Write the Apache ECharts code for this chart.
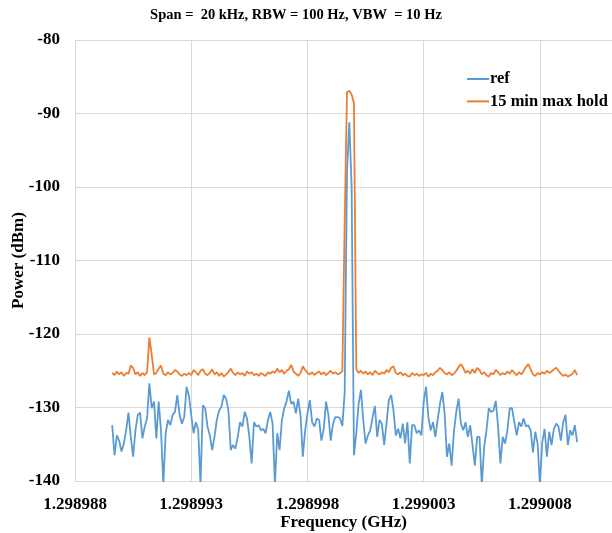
<!DOCTYPE html>
<html>
<head>
<meta charset="utf-8">
<script src="https://cdn.jsdelivr.net/npm/echarts@6/dist/echarts.min.js"></script>
<style>
html,body{margin:0;padding:0;background:#fff;}
#chart{width:612px;height:533px;}
</style>
</head>
<body>
<div id="chart"></div>
<script>
// Sweep grid (GHz): 201 points over the 20 kHz span
var sweepStart = 1.2989896;
var sweepStep = 0.0000001;

var xTickLabels = ['1.298988', '1.298993', '1.298998', '1.299003', '1.299008'];
var yTickLabels = ['-140', '-130', '-120', '-110', '-100', '-90', '-80'];

// Trace "ref" (dBm)
var refPower = [
  -132.4, -136.5, -133.8, -134.5, -136.0, -134.9, -133.1, -130.7, -134.0, -136.7,
  -133.1, -131.0, -130.7, -134.2, -132.6, -131.5, -126.7, -130.1, -129.2, -134.2,
  -129.2, -133.1, -140.5, -133.5, -131.7, -132.4, -131.0, -130.6, -128.3, -131.0,
  -132.2, -131.3, -127.2, -128.4, -131.0, -133.5, -132.0, -133.0, -140.5, -129.7,
  -130.1, -132.6, -133.8, -135.8, -134.0, -131.7, -130.4, -129.9, -128.3, -128.8,
  -130.4, -135.8, -135.1, -135.6, -134.0, -132.0, -132.6, -130.6, -131.5, -134.0,
  -137.6, -132.0, -132.6, -132.4, -133.1, -132.9, -133.5, -131.7, -130.6, -132.2,
  -140.5, -133.5, -135.8, -131.7, -130.1, -129.2, -127.7, -129.5, -129.2, -130.8,
  -128.8, -131.0, -136.7, -133.1, -130.8, -129.0, -132.0, -132.6, -131.5, -131.7,
  -134.5, -132.9, -129.2, -131.0, -134.5, -132.2, -131.3, -131.3, -131.5, -132.5,
  -128.0, -98.0, -91.2, -100.0, -136.5, -133.5, -129.5, -127.6, -131.7, -134.9,
  -133.8, -133.1, -131.4, -129.8, -134.0, -131.7, -132.2, -135.1, -132.2, -129.0,
  -128.3, -130.4, -133.8, -132.9, -134.2, -132.2, -134.9, -132.0, -137.6, -132.4,
  -132.4, -133.5, -133.1, -133.8, -129.2, -127.2, -131.3, -133.1, -132.0, -134.0,
  -131.7, -129.5, -127.9, -130.8, -136.7, -134.9, -137.9, -133.3, -130.6, -128.8,
  -132.2, -133.1, -132.0, -134.0, -132.4, -135.1, -137.9, -134.0, -134.0, -140.5,
  -135.4, -133.1, -130.1, -130.6, -130.4, -129.1, -132.6, -137.6, -134.0, -134.9,
  -133.1, -130.1, -130.1, -132.0, -133.8, -132.0, -132.6, -131.5, -132.6, -132.4,
  -133.1, -136.1, -133.3, -134.9, -140.5, -134.7, -132.9, -136.7, -133.3, -135.1,
  -132.9, -132.2, -132.6, -134.5, -132.0, -131.0, -135.1, -133.1, -133.8, -132.4,
  -134.7
];

// Trace "15 min max hold" (dBm)
var maxHoldPower = [
  -125.3, -125.6, -125.1, -125.5, -125.2, -125.7, -125.3, -125.4, -124.3, -124.6,
  -125.5, -125.2, -125.7, -125.3, -125.6, -125.2, -120.5, -122.8, -125.5, -125.3,
  -124.7, -124.3, -125.4, -125.6, -125.2, -125.5, -125.3, -124.9, -125.1, -125.5,
  -125.7, -125.4, -125.6, -125.3, -125.6, -124.9, -125.2, -125.6, -125.0, -124.8,
  -125.4, -125.6, -125.3, -124.8, -125.5, -125.2, -125.7, -125.3, -125.8, -125.5,
  -125.2, -124.7, -125.3, -125.6, -125.2, -125.5, -125.3, -125.7, -125.1, -125.4,
  -125.2, -125.6, -125.4, -125.7, -125.3, -125.5, -125.7, -125.2, -125.4, -125.1,
  -125.3, -124.7, -125.2, -124.9, -125.4, -125.0, -124.8, -124.2, -125.1, -125.4,
  -125.7, -125.3, -124.4, -124.9, -125.3, -125.5, -125.2, -125.6, -125.3, -125.1,
  -125.5, -125.2, -125.6, -125.3, -125.0, -125.4, -125.2, -125.5, -125.3, -125.1,
  -105.0, -87.1, -86.9, -87.4, -88.6, -124.8, -125.3, -125.0, -125.4, -125.1,
  -125.5, -125.2, -125.6, -125.0, -125.3, -125.5, -125.2, -125.4, -124.9, -125.2,
  -124.6, -124.4, -125.3, -125.5, -125.2, -125.6, -125.4, -125.7, -125.8, -125.3,
  -125.6, -125.4, -125.7, -125.5, -125.6, -125.3, -125.8, -125.4, -125.6, -125.2,
  -125.0, -124.6, -124.9, -125.3, -125.5, -125.2, -125.6, -125.4, -125.0, -124.5,
  -124.1, -124.6, -125.3, -125.0, -125.4, -124.8, -125.3, -124.6, -124.9, -125.5,
  -125.2, -125.6, -125.8, -125.3, -125.5, -124.9, -125.2, -125.6, -125.3, -125.5,
  -125.1, -125.4, -124.9, -125.3, -125.6, -125.2, -125.5, -125.0, -124.5, -124.1,
  -124.8, -125.5, -125.7, -125.3, -125.5, -125.2, -125.4, -125.0, -125.3, -125.1,
  -124.8, -124.6, -125.0, -125.4, -125.7, -125.5, -125.8, -125.6, -125.4, -124.9,
  -125.6
];

var seriesNames = ['ref', '15 min max hold'];

function pairs(values) {
  var out = [];
  for (var i = 0; i < values.length; i++) {
    out.push([sweepStart + i * sweepStep, values[i]]);
  }
  return out;
}

var FONT = '"Liberation Serif", "Times New Roman", serif';
var GRID = '#d9d9d9';

var chart = echarts.init(document.getElementById('chart'), null, {renderer: 'canvas'});
chart.setOption({
  animation: false,
  backgroundColor: '#ffffff',
  title: {
    text: 'Span =  20 kHz, RBW = 100 Hz, VBW  = 10 Hz',
    left: 296,
    textAlign: 'center',
    top: 8,
    padding: 0,
    textStyle: {fontFamily: FONT, fontWeight: 'bold', fontSize: 14.5, color: '#000'}
  },
  legend: {
    orient: 'vertical',
    left: 467,
    top: 70,
    icon: 'rect',
    itemWidth: 22,
    itemHeight: 2,
    itemGap: 4.4,
    padding: 0,
    data: seriesNames,
    textStyle: {fontFamily: FONT, fontWeight: 'bold', fontSize: 16.5, color: '#000',
                lineHeight: 18, padding: [0, 0, 0, -4]}
  },
  grid: {left: 75, right: 0, top: 40, bottom: 52, containLabel: false, outerBoundsMode: 'none'},
  xAxis: {
    type: 'value',
    min: 1.298988,
    max: 1.2990111,
    interval: 0.000005,
    name: 'Frequency (GHz)',
    nameLocation: 'middle',
    nameGap: 33,
    nameMoveOverlap: false,
    nameTextStyle: {fontFamily: FONT, fontWeight: 'bold', fontSize: 17, color: '#000'},
    axisLine: {show: false},
    axisTick: {show: false},
    splitLine: {show: true, lineStyle: {color: GRID, width: 1}},
    axisLabel: {
      showMaxLabel: false,
      margin: 15,
      fontFamily: FONT, fontWeight: 'bold', fontSize: 17, color: '#000',
      formatter: function (v) {
        var s = v.toFixed(6);
        return xTickLabels.indexOf(s) >= 0 ? s : '';
      }
    }
  },
  yAxis: {
    type: 'value',
    min: -140,
    max: -80,
    interval: 10,
    name: 'Power (dBm)',
    nameLocation: 'middle',
    nameGap: 48,
    nameMoveOverlap: false,
    nameTextStyle: {fontFamily: FONT, fontWeight: 'bold', fontSize: 17, color: '#000'},
    axisLine: {show: false},
    axisTick: {show: false},
    splitLine: {show: true, lineStyle: {color: GRID, width: 1}},
    axisLabel: {
      margin: 15,
      fontFamily: FONT, fontWeight: 'bold', fontSize: 17, color: '#000',
      formatter: function (v) {
        var s = String(Math.round(v));
        return yTickLabels.indexOf(s) >= 0 ? s : '';
      }
    }
  },
  series: [
    {
      name: seriesNames[0],
      type: 'line',
      data: pairs(refPower),
      symbol: 'none',
      clip: true,
      lineStyle: {color: '#5b9bd5', width: 1.8},
      itemStyle: {color: '#5b9bd5'}
    },
    {
      name: seriesNames[1],
      type: 'line',
      data: pairs(maxHoldPower),
      symbol: 'none',
      clip: true,
      lineStyle: {color: '#ed7d31', width: 1.8},
      itemStyle: {color: '#ed7d31'}
    }
  ]
});
</script>
</body>
</html>
